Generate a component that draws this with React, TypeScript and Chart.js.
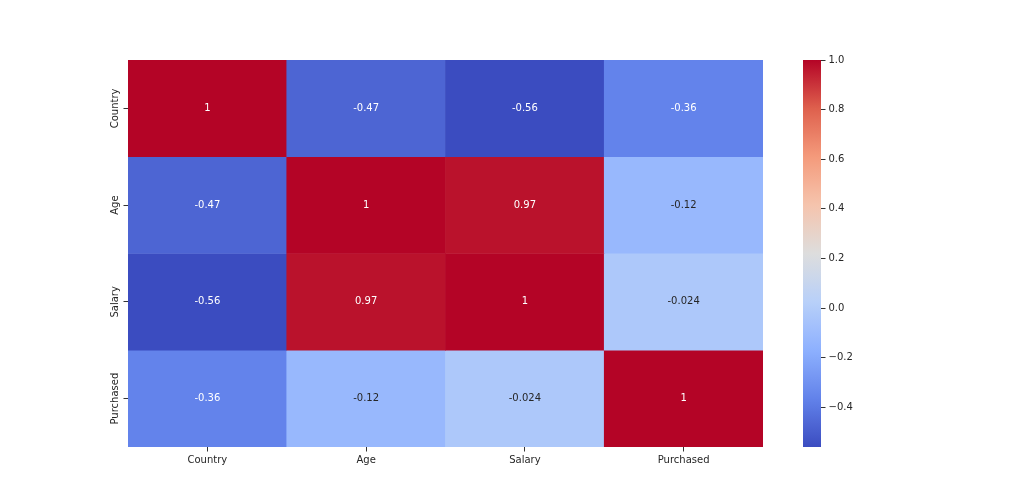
import React, { useEffect, useRef } from 'react';
import { Chart, registerables } from 'chart.js';

Chart.register(...registerables);

const columns = ['Country', 'Age', 'Salary', 'Purchased'];
const rows = ['Country', 'Age', 'Salary', 'Purchased'];
const rowCountry = [1, -0.47, -0.56, -0.36];
const rowAge = [-0.47, 1, 0.97, -0.12];
const rowSalary = [-0.56, 0.97, 1, -0.024];
const rowPurchased = [-0.36, -0.12, -0.024, 1];
const matrix = [rowCountry, rowAge, rowSalary, rowPurchased];
const colorbarTicks = [-0.4, -0.2, 0.0, 0.2, 0.4, 0.6, 0.8, 1.0];

const vmax = 1.0;
const vmin = Math.min(...matrix.flat());

const coolwarm: [number, number, number, number][] = [
  [0, 59, 76, 192],
  [0.125, 98, 130, 234],
  [0.25, 141, 176, 254],
  [0.375, 184, 208, 249],
  [0.5, 221, 221, 221],
  [0.625, 245, 196, 173],
  [0.75, 244, 154, 123],
  [0.875, 222, 96, 77],
  [1, 180, 4, 38],
];

const FONT_FAMILY = '"DejaVu Sans"';
const FONT_SIZE = 10;
const TEXT_COLOR = '#262626';

function cmap(t: number): [number, number, number] {
  const x = Math.max(0, Math.min(1, t));
  for (let i = 0; i < coolwarm.length - 1; i++) {
    const a = coolwarm[i];
    const b = coolwarm[i + 1];
    if (x >= a[0] && x <= b[0]) {
      const f = (x - a[0]) / (b[0] - a[0]);
      return [a[1] + (b[1] - a[1]) * f, a[2] + (b[2] - a[2]) * f, a[3] + (b[3] - a[3]) * f];
    }
  }
  const l = coolwarm[coolwarm.length - 1];
  return [l[1], l[2], l[3]];
}

function rgbStr(c: [number, number, number]) {
  return `rgb(${Math.round(c[0])},${Math.round(c[1])},${Math.round(c[2])})`;
}

function colorFor(v: number) {
  return rgbStr(cmap((v - vmin) / (vmax - vmin)));
}

function luminance(c: [number, number, number]) {
  const lin = c.map((u) => {
    const s = u / 255;
    return s <= 0.03928 ? s / 12.92 : Math.pow((s + 0.055) / 1.055, 2.4);
  });
  return 0.2126 * lin[0] + 0.7152 * lin[1] + 0.0722 * lin[2];
}

function textColorFor(v: number) {
  const c = cmap((v - vmin) / (vmax - vmin));
  return luminance(c) > 0.408 ? '#262626' : '#ffffff';
}

function formatAnnot(v: number) {
  return String(Number(v.toPrecision(2)));
}

function formatCbar(v: number) {
  const s = (Math.abs(v) < 1e-9 ? 0 : v).toFixed(1);
  return s.replace('-', '\u2212');
}

const annotPlugin = {
  id: 'annot',
  afterDatasetsDraw(chart: any) {
    const ctx = chart.ctx;
    ctx.save();
    ctx.font = `${FONT_SIZE}px ${FONT_FAMILY}`;
    ctx.textAlign = 'center';
    ctx.textBaseline = 'middle';
    chart.data.datasets.forEach((_ds: any, i: number) => {
      const meta = chart.getDatasetMeta(i);
      meta.data.forEach((el: any, j: number) => {
        const v = matrix[i][j];
        const p = el.getCenterPoint();
        ctx.fillStyle = textColorFor(v);
        ctx.fillText(formatAnnot(v), p.x, p.y);
      });
    });
    ctx.restore();
  },
};

const W = 1024;
const H = 503;
const PLOT_LEFT = 128;
const PLOT_RIGHT = 763;
const PLOT_TOP = 60;
const PLOT_BOTTOM = 447;
const CBAR_LEFT = 803;
const CBAR_RIGHT = 821;
const TICK_LEN = 4.5;

export default function App() {
  const heatRef = useRef<HTMLCanvasElement | null>(null);
  const cbarRef = useRef<HTMLCanvasElement | null>(null);

  useEffect(() => {
    const font = { family: FONT_FAMILY, size: FONT_SIZE };
    const mctx = document.createElement('canvas').getContext('2d')!;
    mctx.font = `${FONT_SIZE}px ${FONT_FAMILY}`;
    const widest = Math.max(...rows.map((r) => mctx.measureText(r).width));
    const yLabelOffset = 13; // distance from axis to label center
    const yPad = yLabelOffset - TICK_LEN - widest / 2;

    const yAxisW = 40;
    const xAxisH = 30;

    const heat = new Chart(heatRef.current!, {
      type: 'bar',
      data: {
        labels: columns,
        datasets: rows.map((r, i) => ({
          label: r,
          data: columns.map(() => 1),
          backgroundColor: matrix[i].map((v) => colorFor(v)),
          borderWidth: 0,
          barPercentage: 1,
          categoryPercentage: 1,
        })),
      },
      options: {
        responsive: false,
        animation: false,
        layout: {
          padding: {
            left: PLOT_LEFT - yAxisW,
            right: W - PLOT_RIGHT,
            top: PLOT_TOP,
            bottom: H - PLOT_BOTTOM - xAxisH,
          },
        },
        plugins: { legend: { display: false }, tooltip: { enabled: false } },
        scales: {
          x: {
            type: 'category',
            stacked: true,
            border: { display: false },
            grid: {
              display: true,
              drawOnChartArea: false,
              drawTicks: true,
              tickLength: TICK_LEN,
              offset: false,
              color: '#333333',
            },
            ticks: { font, color: TEXT_COLOR, padding: 3, maxRotation: 0, autoSkip: false },
            afterFit: (s: any) => {
              s.height = xAxisH;
            },
          },
          y: {
            type: 'linear',
            stacked: true,
            reverse: true,
            min: 0,
            max: 4,
            border: { display: false },
            grid: {
              display: true,
              drawOnChartArea: false,
              drawTicks: true,
              tickLength: TICK_LEN,
              color: '#333333',
            },
            afterBuildTicks: (s: any) => {
              s.ticks = rows.map((_r, i) => ({ value: i + 0.5 }));
            },
            ticks: {
              font,
              color: TEXT_COLOR,
              autoSkip: false,
              minRotation: 90,
              maxRotation: 90,
              crossAlign: 'center',
              padding: yPad,
              callback: (v: any) => rows[Math.floor(Number(v))],
            },
            afterFit: (s: any) => {
              s.width = yAxisW;
            },
          },
        },
      } as any,
      plugins: [annotPlugin],
    });

    const cbarAxisW = 40;
    const cbar = new Chart(cbarRef.current!, {
      type: 'bar',
      data: {
        labels: [''],
        datasets: [
          {
            data: [[vmin, vmax]] as any,
            backgroundColor: (c: any) => {
              const ch = c.chart;
              const area = ch.chartArea;
              if (!area) return colorFor(0);
              const g = ch.ctx.createLinearGradient(0, area.bottom, 0, area.top);
              for (let k = 0; k <= 32; k++) {
                const t = k / 32;
                g.addColorStop(t, rgbStr(cmap(t)));
              }
              return g;
            },
            borderWidth: 0,
            barPercentage: 1,
            categoryPercentage: 1,
          },
        ],
      },
      options: {
        responsive: false,
        animation: false,
        layout: {
          padding: {
            left: CBAR_LEFT,
            right: W - CBAR_RIGHT - cbarAxisW,
            top: PLOT_TOP,
            bottom: H - PLOT_BOTTOM,
          },
        },
        plugins: { legend: { display: false }, tooltip: { enabled: false } },
        scales: {
          x: { display: false },
          y: {
            type: 'linear',
            position: 'right',
            min: vmin,
            max: vmax,
            border: { display: false },
            grid: {
              display: true,
              drawOnChartArea: false,
              drawTicks: true,
              tickLength: TICK_LEN,
              color: '#333333',
            },
            afterBuildTicks: (s: any) => {
              s.ticks = colorbarTicks.map((v) => ({ value: v }));
            },
            ticks: {
              font,
              color: TEXT_COLOR,
              padding: 3,
              autoSkip: false,
              callback: (v: any) => formatCbar(Number(v)),
            },
            afterFit: (s: any) => {
              s.width = cbarAxisW;
            },
          },
        },
      } as any,
    });

    return () => {
      heat.destroy();
      cbar.destroy();
    };
  }, []);

  return (
    <div
      style={{
        position: 'fixed',
        left: 0,
        top: 0,
        width: W,
        height: H,
        background: '#ffffff',
      }}
    >
      <canvas ref={heatRef} width={W} height={H} style={{ position: 'absolute', left: 0, top: 0 }} />
      <canvas ref={cbarRef} width={W} height={H} style={{ position: 'absolute', left: 0, top: 0 }} />
    </div>
  );
}
